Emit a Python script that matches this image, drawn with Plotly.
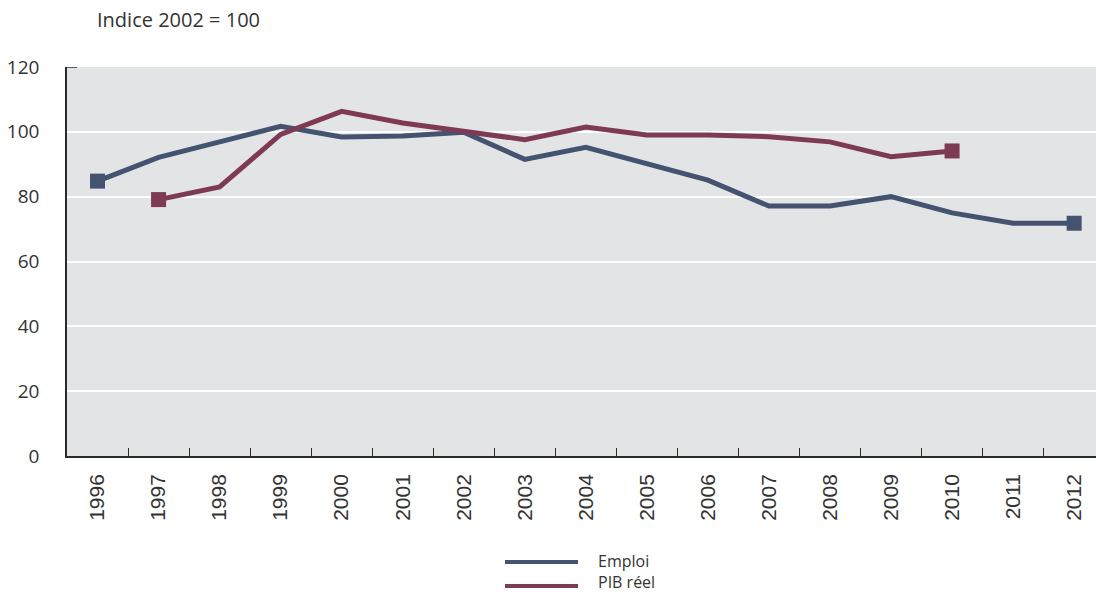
import plotly.graph_objects as go

COLORS = {"bg": "#e3e4e6", "grid": "#ffffff", "axis": "#2b2b2b", "text": "#333333",
          "emploi": "#44536f", "pib": "#7e3a54"}

years = [str(y) for y in range(1996, 2013)]
emploi = [84.8, 92.1, 96.9, 101.7, 98.4, 98.7, 99.9, 91.5, 95.2, 90.2, 85.1, 77.1, 77.1, 80.0, 75.0, 71.8, 71.8]
pib_years = [str(y) for y in range(1997, 2011)]
pib_reel = [79.1, 83.0, 99.2, 106.3, 102.7, 100.0, 97.6, 101.5, 99.0, 99.0, 98.5, 96.9, 92.3, 94.1]

title_text = "Indice 2002 = 100"
legend_names = ["Emploi", "PIB réel"]

W, H = 1096, 594
L, T, B = 67, 67, 138
PW, PH = W - L, H - T - B


def end_sizes(n, size=15):
    # square markers only on the first and last point
    return [size if i in (0, n - 1) else 0 for i in range(n)]


fig = go.Figure()
fig.add_trace(go.Scatter(x=years, y=emploi, name=legend_names[0], mode="lines+markers",
                         line={"color": COLORS["emploi"], "width": 5},
                         marker={"symbol": "square", "size": end_sizes(len(emploi)), "color": COLORS["emploi"],
                                 "opacity": 1, "line": {"width": 0}}))
fig.add_trace(go.Scatter(x=pib_years, y=pib_reel, name=legend_names[1], mode="lines+markers",
                         line={"color": COLORS["pib"], "width": 5},
                         marker={"symbol": "square", "size": end_sizes(len(pib_reel)), "color": COLORS["pib"],
                                 "opacity": 1, "line": {"width": 0}}))

fig.update_layout(width=W, height=H, showlegend=False, paper_bgcolor="white", plot_bgcolor=COLORS["bg"],
                  margin={"l": L, "r": 0, "t": T, "b": B},
                  font={"family": "Open Sans, sans-serif", "color": COLORS["text"]},
                  title={"text": title_text, "x": 97 / W, "xanchor": "left", "y": 1 - 20 / H, "yanchor": "middle",
                         "font": {"size": 20, "color": COLORS["text"]}})

fig.update_xaxes(type="category", categoryorder="array", categoryarray=years, range=[-0.5, -0.5 + PW / 61.04],
                 showgrid=False, showline=True, linecolor=COLORS["axis"], linewidth=1.5,
                 ticks="inside", tickson="boundaries", ticklen=8, tickcolor=COLORS["axis"], tickwidth=1.2,
                 tickangle=-90, ticklabelstandoff=8,
                 tickfont={"family": "Liberation Sans Narrow, Arial Narrow, sans-serif", "size": 21, "color": COLORS["text"]})
fig.update_yaxes(range=[0, 120], tickvals=[0, 20, 40, 60, 80, 100, 120], showgrid=True, gridcolor=COLORS["grid"], gridwidth=1.5,
                 zeroline=False, showline=True, linecolor=COLORS["axis"], linewidth=1.5, ticks="", ticklabelstandoff=22,
                 tickfont={"size": 19, "color": COLORS["text"]})

# small tick at the top of the y axis
fig.add_shape(type="line", xref="paper", yref="y", x0=0, x1=10 / PW, y0=120, y1=120,
              line={"color": COLORS["axis"], "width": 1.5})

# legend drawn below the plot with long line keys
for name, color, py, ty in [(legend_names[0], COLORS["emploi"], 562, 561), (legend_names[1], COLORS["pib"], 586, 582)]:
    yp = (H - B - py) / PH
    fig.add_shape(type="line", xref="paper", yref="paper", x0=(505 - L) / PW, x1=(578 - L) / PW, y0=yp, y1=yp,
                  line={"color": color, "width": 4})
    fig.add_annotation(text=name, xref="paper", yref="paper", x=(597 - L) / PW, y=(H - B - ty) / PH,
                       xanchor="left", yanchor="middle",
                       showarrow=False, borderpad=0, font={"size": 16, "color": COLORS["text"]})

# drop the default page margin so the figure sits at the window's top-left corner
fig.write_html("out.html", config={"displayModeBar": False}, post_script="document.body.style.margin='0';")
